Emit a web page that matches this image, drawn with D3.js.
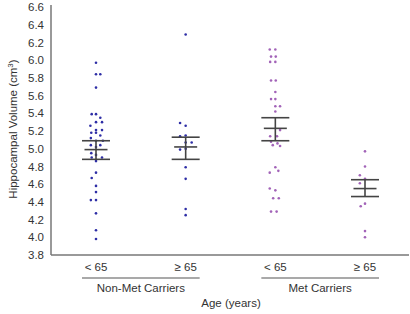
<!DOCTYPE html>
<html><head><meta charset="utf-8">
<script src="https://cdn.jsdelivr.net/npm/d3@7"></script>
<style>body{margin:0;background:#fff}svg{display:block;font-family:"Liberation Sans",Arial,sans-serif}</style>
</head><body><svg id="c" width="410" height="314"></svg>
<script>
const groups = ["nonmet_lt65","nonmet_ge65","met_lt65","met_ge65"];
const tickLabels = ["< 65","\u2265 65","< 65","\u2265 65"];
const carrierLabels = ["Non-Met Carriers","Met Carriers"];
const yTicks = [3.8,4.0,4.2,4.4,4.6,4.8,5.0,5.2,5.4,5.6,5.8,6.0,6.2,6.4,6.6];
// points: [value, jitter offset in units of dot spacing]
const nonMetLt65 = [[5.97,0],[5.84,0],[5.84,1],[5.69,0],[5.39,-1],[5.39,0],[5.35,1],[5.30,0],[5.30,1.4],[5.26,-1.3],[5.21,0],[5.21,1.4],[5.18,-1.1],[5.18,0],[5.15,1],[5.12,-1.2],[5.09,0],[5.09,1.6],[5.04,-1.2],[5.04,1],[5.02,0],[4.95,-1.1],[4.93,0],[4.90,-1],[4.90,1.4],[4.86,0],[4.73,0],[4.67,-1],[4.58,0],[4.51,0],[4.42,-1.2],[4.42,0],[4.27,0],[4.08,0],[3.98,0]];
const nonMetGe65 = [[6.29,0],[5.29,-1.3],[5.26,0],[5.15,0],[5.14,-1.3],[5.07,0],[5.07,1.4],[5.00,0],[4.99,-1.3],[4.79,0],[4.66,0],[4.32,0],[4.25,0]];
const metLt65 = [[6.12,-1.3],[6.12,0],[6.04,-1],[6.04,0.1],[5.98,-1.2],[5.98,0],[5.77,-1],[5.77,0.1],[5.64,0],[5.56,-1],[5.56,0],[5.48,0],[5.48,1.1],[5.42,0],[5.21,1.1],[5.14,-1.2],[5.14,0.4],[5.08,-1],[5.06,0.5],[5.04,-0.6],[5.03,1.1],[4.79,0],[4.75,0.7],[4.73,-1.3],[4.55,-1.3],[4.53,0],[4.44,-0.5],[4.44,0.8],[4.29,-1],[4.29,0.3]];
const metGe65 = [[4.97,0],[4.80,0],[4.70,-1.2],[4.66,0],[4.61,-1.2],[4.38,0],[4.35,-1],[4.07,0],[4.00,0]];
const means = [4.99,5.02,5.23,4.55];
const upper = [5.09,5.13,5.35,4.65];
const lower = [4.88,4.88,5.09,4.46];
const seriesPoints = [nonMetLt65,nonMetGe65,metLt65,metGe65];
const dotColors = ["#2e2ea6","#2e2ea6","#a263b8","#a263b8"];

const svg = d3.select("#c");
const x = d3.scalePoint().domain(groups).range([96,365]);
const y = d3.scaleLinear().domain([3.8,6.6]).range([255,7]);
const axisColor = "#777";
const txt = "#333";

// y axis
const yAx = svg.append("g").attr("transform","translate(51,0)")
  .call(d3.axisLeft(y).tickValues(yTicks).tickFormat(d3.format(".1f")).tickSize(0).tickPadding(7));
yAx.select(".domain").remove();
yAx.selectAll("text").attr("font-size",11.5).attr("fill",txt).attr("font-family","Liberation Sans, Arial, sans-serif");
svg.append("line").attr("x1",51).attr("x2",51).attr("y1",5).attr("y2",255).attr("stroke",axisColor).attr("stroke-width",1.5);
svg.append("line").attr("x1",51).attr("x2",409).attr("y1",255).attr("y2",255).attr("stroke",axisColor).attr("stroke-width",1.5);

// y title
const yt = svg.append("text").attr("transform","translate(17,129) rotate(-90)").attr("text-anchor","middle")
  .attr("font-size",11.5).attr("fill",txt);
yt.append("tspan").text("Hippocampal Volume (cm");
yt.append("tspan").text("3").attr("dy",-4).attr("font-size",8);
yt.append("tspan").text(")").attr("dy",4);

// dots
const dx = 4.3;
seriesPoints.forEach((pts,i)=>{
  svg.append("g").selectAll("circle").data(pts).join("circle")
    .attr("cx",d=>x(groups[i])+d[1]*dx).attr("cy",d=>y(d[0])).attr("r",1.3).attr("fill",dotColors[i]);
});

// error bars
groups.forEach((g,i)=>{
  const cx = x(g);
  const eg = svg.append("g").attr("stroke","#444").attr("stroke-width",1.6);
  eg.append("line").attr("x1",cx).attr("x2",cx).attr("y1",y(upper[i])).attr("y2",y(lower[i]));
  eg.append("line").attr("x1",cx-14).attr("x2",cx+14).attr("y1",y(upper[i])).attr("y2",y(upper[i]));
  eg.append("line").attr("x1",cx-14).attr("x2",cx+14).attr("y1",y(lower[i])).attr("y2",y(lower[i]));
  eg.append("line").attr("x1",cx-11.5).attr("x2",cx+11.5).attr("y1",y(means[i])).attr("y2",y(means[i]));
});

// x tick labels
svg.append("g").selectAll("text").data(groups).join("text")
  .attr("x",d=>x(d)).attr("y",271).attr("text-anchor","middle").attr("font-size",11.5).attr("fill",txt)
  .text((d,i)=>tickLabels[i]);

// carrier underlines and labels
carrierLabels.forEach((lab,k)=>{
  const a = x(groups[2*k]), b = x(groups[2*k+1]);
  svg.append("line").attr("x1",a-14).attr("x2",b+14).attr("y1",278).attr("y2",278).attr("stroke","#555").attr("stroke-width",1.2);
  svg.append("text").attr("x",(a+b)/2).attr("y",292).attr("text-anchor","middle").attr("font-size",11.5).attr("fill",txt).text(lab);
});
svg.append("text").attr("x",231).attr("y",307).attr("text-anchor","middle").attr("font-size",11.5).attr("fill",txt).text("Age (years)");
</script></body></html>
